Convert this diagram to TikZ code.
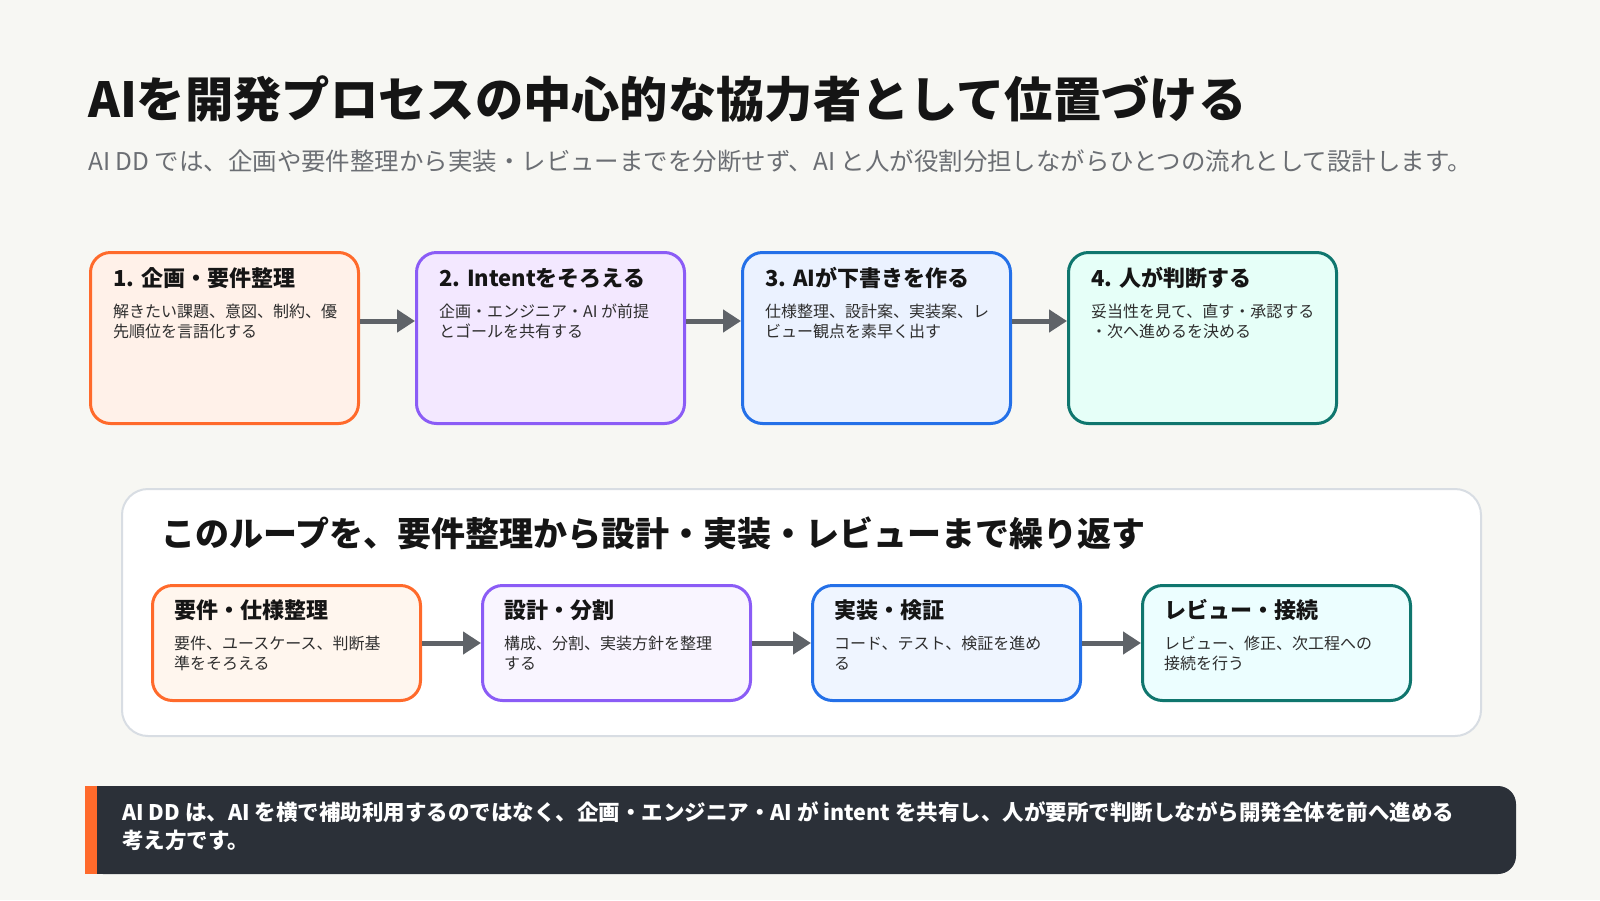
\documentclass[tikz,border=0pt]{standalone}
\usepackage{fontspec}
\setmainfont{Noto Sans CJK JP}
\usetikzlibrary{arrows.meta,calc}
\definecolor{bg}{HTML}{F7F7F3}
\definecolor{titlec}{HTML}{151515}
\definecolor{subc}{HTML}{6B6E73}
\definecolor{bodyc}{HTML}{2E2E2E}
\definecolor{arrc}{HTML}{5F6368}
\definecolor{oB}{HTML}{FF6A2B}\definecolor{oF}{HTML}{FFF1E9}\definecolor{oL}{HTML}{FFF6EE}
\definecolor{pB}{HTML}{8B5CF6}\definecolor{pF}{HTML}{F3E8FF}\definecolor{pL}{HTML}{F9F5FF}
\definecolor{bB}{HTML}{2470E8}\definecolor{bF}{HTML}{EBF2FF}\definecolor{bL}{HTML}{EFF5FF}
\definecolor{gB}{HTML}{0F766E}\definecolor{gF}{HTML}{E6FFF8}\definecolor{gL}{HTML}{ECFEFF}
\definecolor{loopB}{HTML}{D8DDE3}
\definecolor{barc}{HTML}{2B3038}
\tikzset{
  topbox/.style={draw, line width=3pt, rounded corners=20pt, minimum width=268pt, minimum height=171pt, anchor=north west, inner sep=0pt},
  lowbox/.style={draw, line width=3pt, rounded corners=20pt, minimum width=268pt, minimum height=115pt, anchor=north west, inner sep=0pt},
  ttl/.style={anchor=west, inner sep=0pt, text=titlec, font=\fontsize{22}{27}\selectfont\bfseries},
  lttl/.style={anchor=west, inner sep=0pt, text=titlec, font=\fontsize{22}{27}\selectfont\bfseries},
  bdy/.style={anchor=west, inner sep=0pt, text=bodyc, align=left, font=\fontsize{16}{20}\selectfont},
  arr/.style={draw=arrc, line width=5pt, -{Triangle[length=18pt,width=22pt]}},
}
\begin{document}
\begin{tikzpicture}[x=1pt,y=-1pt]
\fill[bg] (0,0) rectangle (1600,900);
\useasboundingbox (0,0) rectangle (1600,900);

\node[anchor=west, inner sep=0pt, text=titlec, font=\fontsize{48.3}{58}\selectfont\bfseries] (title) at (88,99) {AIを開発プロセスの中心的な協力者として位置づける};
\node[anchor=west, inner sep=0pt, text=subc, font=\fontsize{24.45}{30}\selectfont] (sub) at (88,161) {AI DD では、企画や要件整理から実装・レビューまでを分断せず、AI と人が役割分担しながらひとつの流れとして設計します。};

% top row
\node[topbox, draw=oB, fill=oF] (b1) at (89,251) {};
\node[topbox, draw=pB, fill=pF] (b2) at (415,251) {};
\node[topbox, draw=bB, fill=bF] (b3) at (741,251) {};
\node[topbox, draw=gB, fill=gF] (b4) at (1067,251) {};

\node[ttl] (b1t) at ($(b1.north west)+(24,27)$) {1. 企画・要件整理};
\node[bdy] (b1b) at ($(b1.north west)+(24,70)$) {解きたい課題、意図、制約、優\\先順位を言語化する};
\node[ttl] (b2t) at ($(b2.north west)+(24,27)$) {2. Intentをそろえる};
\node[bdy] (b2b) at ($(b2.north west)+(24,70)$) {企画・エンジニア・AI が前提\\とゴールを共有する};
\node[ttl] (b3t) at ($(b3.north west)+(24,27)$) {3. AIが下書きを作る};
\node[bdy] (b3b) at ($(b3.north west)+(24,70)$) {仕様整理、設計案、実装案、レ\\ビュー観点を素早く出す};
\node[ttl] (b4t) at ($(b4.north west)+(24,27)$) {4. 人が判断する};
\node[bdy] (b4b) at ($(b4.north west)+(24,70)$) {妥当性を見て、直す・承認する\\・次へ進めるを決める};

\draw[arr] ([yshift=17pt]b1.east) -- ([yshift=17pt]b2.west);
\draw[arr] ([yshift=17pt]b2.east) -- ([yshift=17pt]b3.west);
\draw[arr] ([yshift=17pt]b3.east) -- ([yshift=17pt]b4.west);

% loop container
\node[draw=loopB, line width=2pt, fill=white, rounded corners=26pt, minimum width=1359pt, minimum height=247pt, anchor=north west, inner sep=0pt] (loop) at (121,488) {};
\node[anchor=west, inner sep=0pt, text=titlec, font=\fontsize{34}{40}\selectfont\bfseries] (looptitle) at (161,533) {このループを、要件整理から設計・実装・レビューまで繰り返す};

\node[lowbox, draw=oB, fill=oL] (c1) at (151,584) {};
\node[lowbox, draw=pB, fill=pL] (c2) at (481,584) {};
\node[lowbox, draw=bB, fill=bL] (c3) at (811,584) {};
\node[lowbox, draw=gB, fill=gL] (c4) at (1141,584) {};

\node[lttl] (c1t) at ($(c1.north west)+(23,26)$) {要件・仕様整理};
\node[bdy] (c1b) at ($(c1.north west)+(23,69)$) {要件、ユースケース、判断基\\準をそろえる};
\node[lttl] (c2t) at ($(c2.north west)+(23,26)$) {設計・分割};
\node[bdy] (c2b) at ($(c2.north west)+(23,69)$) {構成、分割、実装方針を整理\\する};
\node[lttl] (c3t) at ($(c3.north west)+(23,26)$) {実装・検証};
\node[bdy] (c3b) at ($(c3.north west)+(23,69)$) {コード、テスト、検証を進め\\る};
\node[lttl] (c4t) at ($(c4.north west)+(23,26)$) {レビュー・接続};
\node[bdy] (c4b) at ($(c4.north west)+(23,69)$) {レビュー、修正、次工程への\\接続を行う};

\draw[arr] (c1.east) -- (c2.west);
\draw[arr] (c2.east) -- (c3.west);
\draw[arr] (c3.east) -- (c4.west);

% bottom bar
\fill[barc, rounded corners=18pt] (85,786) rectangle (1516,874);
\fill[barc] (85,786) rectangle (140,874);
\fill[oB] (85,786) rectangle (97,874);
\node[anchor=west, inner sep=0pt, text=white, align=left, font=\fontsize{21.5}{28}\selectfont\bfseries] (bartext) at (122,826) {AI DD は、AI を横で補助利用するのではなく、企画・エンジニア・AI が intent を共有し、人が要所で判断しながら開発全体を前へ進める\\考え方です。};
\end{tikzpicture}
\end{document}
